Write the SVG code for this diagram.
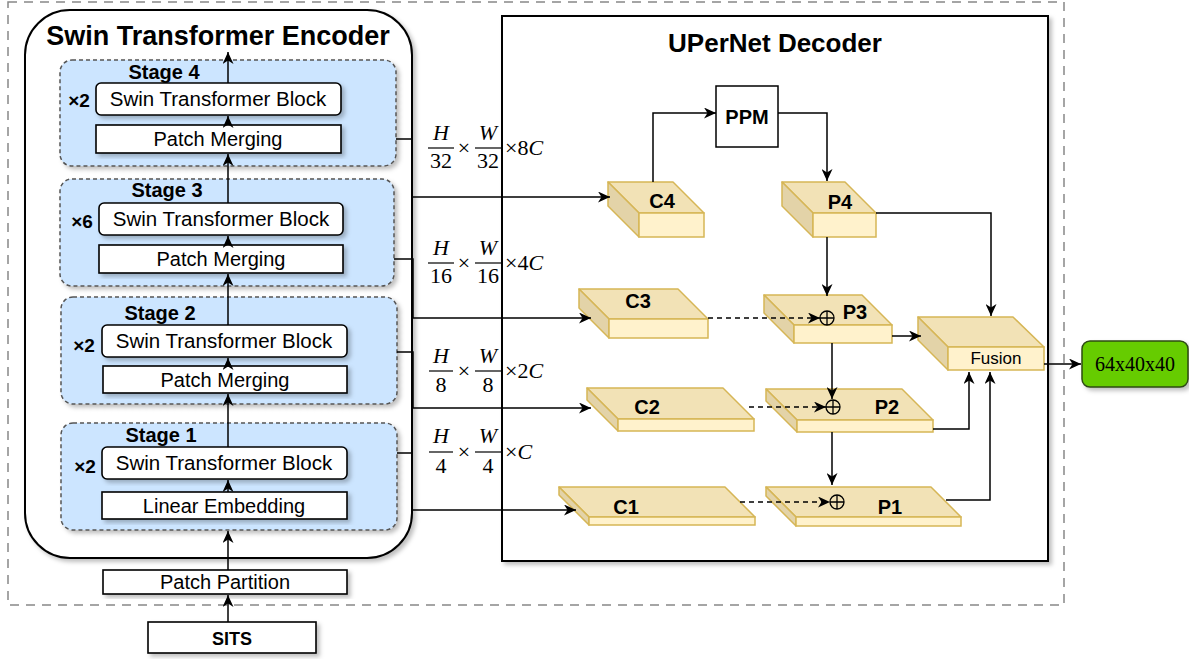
<svg xmlns="http://www.w3.org/2000/svg" width="1189" height="659" viewBox="0 0 1189 659">
<defs>
<style>
.t{font-family:"Liberation Sans",Arial,sans-serif;fill:#000}
.b{font-weight:bold}
.m{font-family:"Liberation Serif","Times New Roman",serif;font-size:22px;fill:#000}
.i{font-style:italic}
.stage{fill:#cce5ff;stroke:#555;stroke-width:1.5;stroke-dasharray:4 3}
.wb{fill:#fff;stroke:#000;stroke-width:1.6}
.top{fill:#f2e2b6;stroke:#d6b656;stroke-width:1.5;stroke-linejoin:round}
.side{fill:#e3d3a8;stroke:#d6b656;stroke-width:1.5;stroke-linejoin:round}
.front{fill:#fff2cc;stroke:#d6b656;stroke-width:1.5}
.ln{fill:none;stroke:#000;stroke-width:1.5}
.ds{fill:none;stroke:#000;stroke-width:1.5;stroke-dasharray:5 4}
</style>
<marker id="arr" markerWidth="13" markerHeight="11" refX="12" refY="5.5" orient="auto" markerUnits="userSpaceOnUse"><path d="M0,0 L12,5.5 L0,11 L3.5,5.5 Z" fill="#000"/></marker>
<filter id="sh" x="-10%" y="-10%" width="130%" height="130%"><feDropShadow dx="3" dy="3" stdDeviation="2" flood-color="#000" flood-opacity="0.25"/></filter>
</defs>
<rect x="0" y="0" width="1189" height="659" fill="#fff"/>

<g id="outer"><rect x="8" y="2" width="1056" height="603" fill="none" stroke="#888" stroke-width="1.5" stroke-dasharray="9 7"/></g>

<g id="encoder">
<rect x="25" y="10" width="387" height="548" rx="45" fill="#fff" stroke="#000" stroke-width="2" filter="url(#sh)"/>
<text class="t b" x="218" y="45" font-size="27" text-anchor="middle">Swin Transformer Encoder</text>
</g>

<g id="stage4">
<rect class="stage" x="60" y="60" width="336" height="106" rx="12" filter="url(#sh)"/>
<text class="t b" x="164" y="79" font-size="20" text-anchor="middle">Stage 4</text>
<text class="t b" x="79" y="107" font-size="19" text-anchor="middle">×2</text>
<rect class="wb" x="96" y="83" width="245" height="32" rx="5" filter="url(#sh)"/>
<text class="t" x="218" y="106" font-size="20.5" text-anchor="middle">Swin Transformer Block</text>
<rect class="wb" x="96" y="125" width="245" height="28" filter="url(#sh)"/>
<text class="t" x="218" y="146" font-size="20" text-anchor="middle">Patch Merging</text>
</g>

<g id="stage3">
<rect class="stage" x="60" y="179" width="334" height="107" rx="12" filter="url(#sh)"/>
<text class="t b" x="167" y="197" font-size="20" text-anchor="middle">Stage 3</text>
<text class="t b" x="82" y="228" font-size="19" text-anchor="middle">×6</text>
<rect class="wb" x="99" y="203" width="244" height="32" rx="5" filter="url(#sh)"/>
<text class="t" x="221" y="226" font-size="20.5" text-anchor="middle">Swin Transformer Block</text>
<rect class="wb" x="99" y="245" width="244" height="28" filter="url(#sh)"/>
<text class="t" x="221" y="266" font-size="20" text-anchor="middle">Patch Merging</text>
</g>

<g id="stage2">
<rect class="stage" x="61" y="297" width="336" height="107" rx="12" filter="url(#sh)"/>
<text class="t b" x="160" y="320" font-size="20" text-anchor="middle">Stage 2</text>
<text class="t b" x="84" y="352" font-size="19" text-anchor="middle">×2</text>
<rect class="wb" x="102" y="325" width="245" height="32" rx="5" filter="url(#sh)"/>
<text class="t" x="224" y="348" font-size="20.5" text-anchor="middle">Swin Transformer Block</text>
<rect class="wb" x="103" y="366" width="244" height="27" filter="url(#sh)"/>
<text class="t" x="225" y="387" font-size="20" text-anchor="middle">Patch Merging</text>
</g>

<g id="stage1">
<rect class="stage" x="61" y="423" width="336" height="107" rx="12" filter="url(#sh)"/>
<text class="t b" x="161" y="442" font-size="20" text-anchor="middle">Stage 1</text>
<text class="t b" x="85" y="473" font-size="19" text-anchor="middle">×2</text>
<rect class="wb" x="102" y="447" width="245" height="32" rx="5" filter="url(#sh)"/>
<text class="t" x="224" y="470" font-size="20.5" text-anchor="middle">Swin Transformer Block</text>
<rect class="wb" x="102" y="492" width="245" height="27" filter="url(#sh)"/>
<text class="t" x="224" y="513" font-size="20" text-anchor="middle">Linear Embedding</text>
</g>

<g id="patch-partition">
<rect class="wb" x="103" y="570" width="244" height="24" filter="url(#sh)"/>
<text class="t" x="225" y="589" font-size="20" text-anchor="middle">Patch Partition</text>
</g>

<g id="sits">
<rect class="wb" x="148" y="622" width="168" height="31" filter="url(#sh)"/>
<text class="t b" x="232" y="645" font-size="18" text-anchor="middle">SITS</text>
</g>

<g id="decoder">
<rect x="502" y="16" width="546" height="545" fill="#fff" stroke="#000" stroke-width="2" filter="url(#sh)"/>
<text class="t b" x="775" y="52" font-size="26" text-anchor="middle">UPerNet Decoder</text>
</g>

<g id="dims">
<text class="m i" x="441" y="140" text-anchor="middle">H</text><line x1="428" y1="148" x2="454" y2="148" stroke="#000" stroke-width="1.2"/><text class="m" x="441" y="168" text-anchor="middle">32</text>
<text class="m" x="464" y="155" text-anchor="middle">×</text>
<text class="m i" x="488" y="140" text-anchor="middle">W</text><line x1="475" y1="148" x2="502" y2="148" stroke="#000" stroke-width="1.2"/><text class="m" x="488" y="168" text-anchor="middle">32</text>
<text class="m" x="505" y="155">×8<tspan class="i">C</tspan></text>

<text class="m i" x="441" y="255" text-anchor="middle">H</text><line x1="428" y1="263" x2="454" y2="263" stroke="#000" stroke-width="1.2"/><text class="m" x="441" y="283" text-anchor="middle">16</text>
<text class="m" x="464" y="270" text-anchor="middle">×</text>
<text class="m i" x="488" y="255" text-anchor="middle">W</text><line x1="475" y1="263" x2="502" y2="263" stroke="#000" stroke-width="1.2"/><text class="m" x="488" y="283" text-anchor="middle">16</text>
<text class="m" x="505" y="270">×4<tspan class="i">C</tspan></text>

<text class="m i" x="441" y="363" text-anchor="middle">H</text><line x1="429" y1="371" x2="453" y2="371" stroke="#000" stroke-width="1.2"/><text class="m" x="441" y="392" text-anchor="middle">8</text>
<text class="m" x="464" y="378" text-anchor="middle">×</text>
<text class="m i" x="488" y="363" text-anchor="middle">W</text><line x1="475" y1="371" x2="502" y2="371" stroke="#000" stroke-width="1.2"/><text class="m" x="488" y="392" text-anchor="middle">8</text>
<text class="m" x="505" y="378">×2<tspan class="i">C</tspan></text>

<text class="m i" x="441" y="443" text-anchor="middle">H</text><line x1="429" y1="452" x2="453" y2="452" stroke="#000" stroke-width="1.2"/><text class="m" x="441" y="473" text-anchor="middle">4</text>
<text class="m" x="464" y="459" text-anchor="middle">×</text>
<text class="m i" x="488" y="443" text-anchor="middle">W</text><line x1="475" y1="452" x2="502" y2="452" stroke="#000" stroke-width="1.2"/><text class="m" x="488" y="473" text-anchor="middle">4</text>
<text class="m" x="505" y="459">×<tspan class="i">C</tspan></text>
</g>

<g id="ppm">
<rect x="716" y="86" width="62" height="61" fill="#fff" stroke="#000" stroke-width="1.5"/>
<text class="t b" x="747" y="124" font-size="20" text-anchor="middle">PPM</text>
</g>

<g id="C4" transform="translate(608,182)">
<path class="top" d="M0,0 H65 L96,31 H31 Z"/><path class="side" d="M0,0 L31,31 V55 L0,24 Z"/><rect class="front" x="31" y="31" width="65" height="24"/>
<text class="t b" x="54" y="26" font-size="20" text-anchor="middle">C4</text>
</g>
<g id="P4" transform="translate(782,182)">
<path class="top" d="M0,0 H63 L94,31 H31 Z"/><path class="side" d="M0,0 L31,31 V55 L0,24 Z"/><rect class="front" x="31" y="31" width="63" height="24"/>
<text class="t b" x="58" y="27" font-size="20" text-anchor="middle">P4</text>
</g>
<g id="C3" transform="translate(579,289)">
<path class="top" d="M0,0 H99 L129,30 H30 Z"/><path class="side" d="M0,0 L30,30 V49 L0,19 Z"/><rect class="front" x="30" y="30" width="99" height="19"/>
<text class="t b" x="59" y="19" font-size="20" text-anchor="middle">C3</text>
</g>
<g id="P3" transform="translate(764,295)">
<path class="top" d="M0,0 H98 L128,30 H30 Z"/><path class="side" d="M0,0 L30,30 V48 L0,18 Z"/><rect class="front" x="30" y="30" width="98" height="18"/>
<circle cx="63" cy="23" r="7" fill="none" stroke="#000" stroke-width="1.3"/><path d="M56,23 H70 M63,16 V30" stroke="#000" stroke-width="1.3"/>
<text class="t b" x="91" y="24" font-size="20" text-anchor="middle">P3</text>
</g>
<g id="C2" transform="translate(587,388)">
<path class="top" d="M0,0 H136 L167,31 H31 Z"/><path class="side" d="M0,0 L31,31 V43 L0,12 Z"/><rect class="front" x="31" y="31" width="136" height="12"/>
<text class="t b" x="60" y="26" font-size="20" text-anchor="middle">C2</text>
</g>
<g id="P2" transform="translate(766,389)">
<path class="top" d="M0,0 H136 L167,31 H31 Z"/><path class="side" d="M0,0 L31,31 V43 L0,12 Z"/><rect class="front" x="31" y="31" width="136" height="12"/>
<circle cx="67" cy="18" r="7" fill="none" stroke="#000" stroke-width="1.3"/><path d="M60,18 H74 M67,11 V25" stroke="#000" stroke-width="1.3"/>
<text class="t b" x="121" y="25" font-size="20" text-anchor="middle">P2</text>
</g>
<g id="C1" transform="translate(559,487)">
<path class="top" d="M0,0 H166 L196,30 H30 Z"/><path class="side" d="M0,0 L30,30 V38 L0,8 Z"/><rect class="front" x="30" y="30" width="166" height="8"/>
<text class="t b" x="67" y="27" font-size="20" text-anchor="middle">C1</text>
</g>
<g id="P1" transform="translate(766,487)">
<path class="top" d="M0,0 H165 L195,30 H30 Z"/><path class="side" d="M0,0 L30,30 V39 L0,9 Z"/><rect class="front" x="30" y="30" width="165" height="9"/>
<circle cx="71" cy="15" r="7" fill="none" stroke="#000" stroke-width="1.3"/><path d="M64,15 H78 M71,8 V22" stroke="#000" stroke-width="1.3"/>
<text class="t b" x="124" y="27" font-size="20" text-anchor="middle">P1</text>
</g>
<g id="fusion" transform="translate(918,317)">
<path class="top" d="M0,0 H95 L126,30 H30 Z"/><path class="side" d="M0,0 L30,30 V53 L0,23 Z"/><rect class="front" x="30" y="30" width="96" height="23"/>
<text class="t" x="78" y="47" font-size="17" text-anchor="middle">Fusion</text>
</g>

<g id="output">
<rect x="1082" y="341" width="106" height="46" rx="8" fill="#66cc00" stroke="#2d4a14" stroke-width="1.5" filter="url(#sh)"/>
<text x="1135" y="371" font-family="Liberation Serif,serif" font-size="20" text-anchor="middle" fill="#000">64x40x40</text>
</g>

<g id="connectors">
<line class="ln" x1="228" y1="622" x2="228" y2="595" marker-end="url(#arr)"/>
<line class="ln" x1="228" y1="570" x2="228" y2="531" marker-end="url(#arr)"/>
<line class="ln" x1="228" y1="492" x2="228" y2="480" marker-end="url(#arr)"/>
<line class="ln" x1="228" y1="447" x2="228" y2="394" marker-end="url(#arr)"/>
<line class="ln" x1="228" y1="366" x2="228" y2="358" marker-end="url(#arr)"/>
<line class="ln" x1="228" y1="325" x2="228" y2="274" marker-end="url(#arr)"/>
<line class="ln" x1="228" y1="245" x2="228" y2="236" marker-end="url(#arr)"/>
<line class="ln" x1="228" y1="203" x2="228" y2="154" marker-end="url(#arr)"/>
<line class="ln" x1="228" y1="125" x2="228" y2="116" marker-end="url(#arr)"/>
<line class="ln" x1="228" y1="83" x2="228" y2="52" marker-end="url(#arr)"/>

<polyline class="ln" points="396,139 412,139 412,197 610,197" marker-end="url(#arr)"/>
<polyline class="ln" points="394,259 413,259 413,318 591,318" marker-end="url(#arr)"/>
<polyline class="ln" points="397,352 413,352 413,408 591,408" marker-end="url(#arr)"/>
<polyline class="ln" points="397,453 412,453 412,510 576,510" marker-end="url(#arr)"/>

<polyline class="ln" points="653,182 653,113 716,113" marker-end="url(#arr)"/>
<polyline class="ln" points="778,113 827,113 827,181" marker-end="url(#arr)"/>
<polyline class="ln" points="876,213 991,213 991,316" marker-end="url(#arr)"/>
<line class="ln" x1="827" y1="237" x2="827" y2="296" marker-end="url(#arr)"/>
<line class="ds" x1="708" y1="318" x2="820" y2="318" marker-end="url(#arr)"/>
<line class="ln" x1="892" y1="336" x2="921" y2="336" marker-end="url(#arr)"/>
<line class="ln" x1="832" y1="343" x2="832" y2="399" marker-end="url(#arr)"/>
<line class="ds" x1="749" y1="407" x2="826" y2="407" marker-end="url(#arr)"/>
<polyline class="ln" points="933,429 969,429 969,372" marker-end="url(#arr)"/>
<line class="ln" x1="832" y1="432" x2="832" y2="485" marker-end="url(#arr)"/>
<line class="ds" x1="740" y1="502" x2="830" y2="502" marker-end="url(#arr)"/>
<polyline class="ln" points="946,500 990,500 990,372" marker-end="url(#arr)"/>
<line class="ln" x1="1044" y1="364" x2="1081" y2="364" marker-end="url(#arr)"/>
</g>
</svg>
